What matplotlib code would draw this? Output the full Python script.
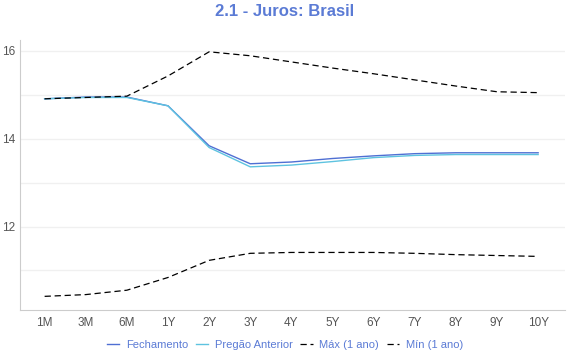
import matplotlib
matplotlib.use("Agg")
import matplotlib.pyplot as plt
from matplotlib.ticker import MultipleLocator

# vertices da curva
prazos = ["1M", "3M", "6M", "1Y", "2Y", "3Y", "4Y", "5Y", "6Y", "7Y", "8Y", "9Y", "10Y"]
fechamento = [14.91, 14.95, 14.95, 14.75, 13.84, 13.43, 13.47, 13.55, 13.61, 13.66, 13.68, 13.68, 13.68]
pregao_anterior = [14.91, 14.94, 14.94, 14.75, 13.80, 13.36, 13.40, 13.48, 13.57, 13.62, 13.64, 13.64, 13.64]
maximo = [14.91, 14.94, 14.97, 15.43, 15.98, 15.89, 15.75, 15.61, 15.48, 15.34, 15.20, 15.07, 15.05]
minimo = [10.41, 10.45, 10.55, 10.84, 11.23, 11.39, 11.41, 11.41, 11.41, 11.39, 11.36, 11.34, 11.32]

plt.rcParams['font.family'] = ['Liberation Sans', 'DejaVu Sans']

fig = plt.figure(figsize=(5.7, 3.6), dpi=100)
ax = fig.add_axes([0.035, 0.139, 0.956, 0.75])

x = range(len(prazos))
ax.plot(x, fechamento, color="#4f6fd3", lw=1, label="Fechamento")
ax.plot(x, pregao_anterior, color="#5ec3e0", lw=1, label="Pregão Anterior")
ax.plot(x, maximo, color="black", lw=0.9, ls=(0, (5, 3)), label="Máx (1 ano)")
ax.plot(x, minimo, color="black", lw=0.9, ls=(0, (5, 3)), label="Mín (1 ano)")

ax.set_xlim(-0.6, 12.65)
ax.set_ylim(10.1, 16.25)
ax.set_xticks(list(x))
ax.set_xticklabels(prazos)
ax.yaxis.set_major_locator(MultipleLocator(2))
ax.yaxis.set_minor_locator(MultipleLocator(1))
ax.grid(True, which="both", axis="y", color="#f0f0f0", lw=1)
ax.set_axisbelow(True)

for s in ["top", "right"]:
    ax.spines[s].set_visible(False)
for s in ["left", "bottom"]:
    ax.spines[s].set_color("#cccccc")
ax.tick_params(axis="both", which="both", length=0, labelsize=8.5, colors="#555555")
ax.tick_params(axis="x", pad=5)

fig.suptitle("2.1 - Juros: Brasil", x=0.5, y=0.99, fontsize=12, fontweight="bold", color="#5b7bd5")

leg = fig.legend(loc="lower center", bbox_to_anchor=(0.5, 0.0), ncol=4, frameon=False,
                 fontsize=8, handlelength=1.1, handletextpad=0.6, columnspacing=0.7)
for t in leg.get_texts():
    t.set_color("#5b7bd5")

fig.savefig("out.png", dpi=100)
